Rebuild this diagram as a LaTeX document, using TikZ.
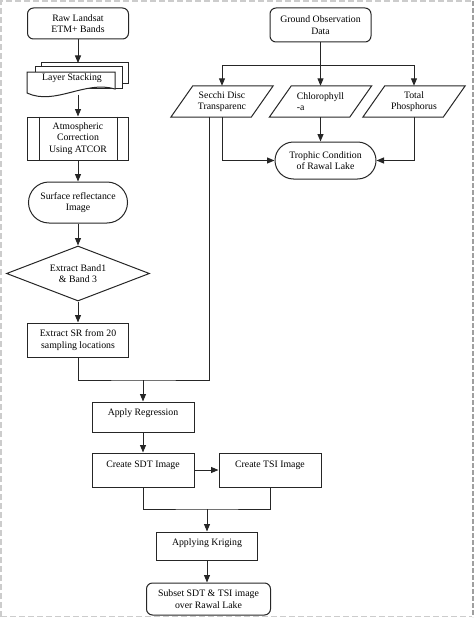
\documentclass[tikz,border=0pt]{standalone}
\usepackage{fontspec}
\setmainfont{Liberation Serif}
\usetikzlibrary{shapes.geometric,shapes.misc,arrows.meta,calc}
\newcommand\dfont{\fontsize{9.8}{11.3}\selectfont}
\begin{document}
\begin{tikzpicture}[x=1pt,y=-1pt,
  shp/.style={draw=black!85, line width=1pt},
  txt/.style={font=\dfont, inner sep=1pt, align=center},
  box/.style={shp, font=\dfont, inner sep=1pt, align=center},
  boxone/.style={shp, font=\dfont, inner sep=1pt},
  rbox/.style={box, rounded corners=6pt},
  stad/.style={box, rounded rectangle},
  dia/.style={box, diamond, aspect=2.6, minimum width=143pt, minimum height=55pt, inner sep=0pt},
  ptxt/.style={txt, minimum width=80pt, minimum height=31pt},
  ln/.style={draw=black!85, line width=1pt},
  arr/.style={ln, -{Triangle[length=7.5pt,width=6pt]}}]
\useasboundingbox (0,0) rectangle (474,618);
% frame
\draw[gray!40, line width=1.3pt, dash pattern=on 6pt off 3pt] (1,617) -- (1,1) -- (472,1);
\draw[gray!40, line width=1.3pt, dash pattern=on 6pt off 3pt] (1,616.5) -- (472,616.5);
\draw[gray!75, line width=2pt, dash pattern=on 5pt off 2pt] (472.5,1) -- (472.5,617);

% left column
\node[rbox, minimum width=101pt, minimum height=31pt] (raw) at (78,23.5) {Raw Landsat\\ETM+ Bands};

\draw[shp, fill=white] (41,63) rectangle (128,83);
\draw[shp, fill=white] (35,67) rectangle (122,88);
\draw[shp, fill=white] (27,72) -- (115,72) -- (115,89) .. controls (85,80) and (55,106) .. (27,93) -- cycle;
\node[txt] (stack) at (72,78.5) {Layer Stacking};
\coordinate (stacktop) at (78,63);
\coordinate (stackbot) at (78,94.5);

\node[box, minimum width=101pt, minimum height=43pt] (atm) at (78,138.5) {Atmospheric\\Correction\\Using ATCOR};
\draw[shp] ([xshift=12pt]atm.north west) -- ([xshift=12pt]atm.south west)
           ([xshift=-12pt]atm.north east) -- ([xshift=-12pt]atm.south east);
\node[stad, minimum width=101pt, minimum height=41pt] (surf) at (78,202.5) {Surface reflectance\\Image};
\node[dia] (band) at (78,273.5) {Extract Band1\\\& Band 3};
\node[box, minimum width=101pt, minimum height=34pt] (sr) at (78,340) {Extract SR from 20\\sampling locations};

% lower column
\node[boxone, minimum width=102pt, minimum height=30pt, text depth=10pt] (reg) at (143,417) {Apply Regression};
\node[boxone, minimum width=102pt, minimum height=34pt, text depth=12pt] (sdt) at (143,470) {Create SDT Image};
\node[boxone, minimum width=102pt, minimum height=34pt, text depth=12pt] (tsi) at (270,470) {Create TSI Image};
\node[boxone, minimum width=101pt, minimum height=28pt, text depth=8pt] (krig) at (207,546) {Applying Kriging};
\node[rbox, minimum width=124pt, minimum height=32pt] (sub) at (208.5,599) {Subset SDT \& TSI image\\over Rawal Lake};

% right side
\node[rbox, minimum width=101pt, minimum height=34pt] (ground) at (320.5,25) {Ground Observation\\Data};
\node[ptxt] (secchi) at (222,101.5) {Secchi Disc\\Transparenc};
\node[ptxt, align=left] (chloro) at (320.5,101.5) {Chlorophyll\\-a};
\node[ptxt] (tp) at (414,101.5) {Total\\Phosphorus};
\foreach \n in {secchi,chloro,tp}
  \draw[shp] ([xshift=-11pt]\n.south west) -- ([xshift=11pt]\n.north west) -- ([xshift=11pt]\n.north east) -- ([xshift=-11pt]\n.south east) -- cycle;
\node[stad, minimum width=103pt, minimum height=37pt] (troph) at (325.5,160.5) {Trophic Condition\\of Rawal Lake};

% connectors
\draw[arr] (raw.south) -- (stacktop);
\draw[arr] (stackbot) -- (atm.north);
\draw[arr] (atm.south) -- (surf.north);
\draw[arr] (surf.south) -- (band.north);
\draw[arr] (band.south) -- (sr.north);
\coordinate (j1) at (143,380);
\draw[ln] (sr.south) |- (j1) -| ([xshift=-13pt]secchi.south);
\draw[arr] (j1) -- (reg.north);
\draw[arr] (reg.south) -- (sdt.north);
\draw[arr] (sdt.east) -- (tsi.west);
\coordinate (j2) at (207,509);
\draw[ln] (sdt.south) |- (j2) -| (tsi.south);
\draw[arr] (j2) -- (krig.north);
\draw[arr] (krig.south) -- (krig.south |- sub.north);

\draw[ln] (ground.south) -- ++(0,23) coordinate (g1);
\draw[arr] (g1) -| (secchi.north);
\draw[arr] (g1) -- (chloro.north);
\draw[arr] (g1) -| (tp.north);
\draw[arr] (secchi.south) |- (troph.west);
\draw[arr] (chloro.south) -- (chloro.south |- troph.north);
\draw[arr] (tp.south) |- (troph.east);
\end{tikzpicture}
\end{document}
